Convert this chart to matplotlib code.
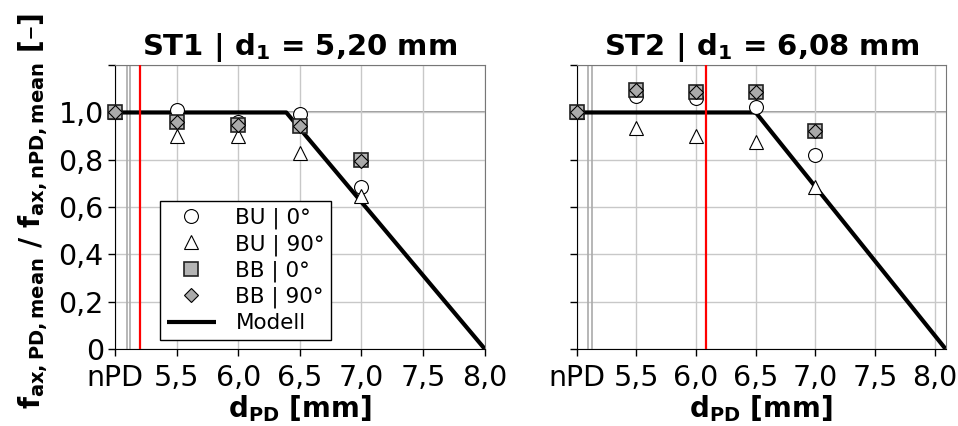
import numpy as np
import matplotlib.pyplot as plt

plt.rcParams['font.family'] = 'DejaVu Sans'
plt.rcParams['mathtext.default'] = 'bf'

# x positions: nPD is drawn at 5.0
x_pts = [5.0, 5.5, 6.0, 6.5, 7.0]
xtick_pos = [5.0, 5.5, 6.0, 6.5, 7.0, 7.5, 8.0]
xtick_lab = ['nPD', '5,5', '6,0', '6,5', '7,0', '7,5', '8,0']
ytick_pos = [0, 0.2, 0.4, 0.6, 0.8, 1.0, 1.2]
ytick_lab = ['0', '0,2', '0,4', '0,6', '0,8', '1,0', '']

# ST1
st1_bu0 = [1.0, 1.01, 0.96, 0.995, 0.685]
st1_bu90 = [1.0, 0.90, 0.90, 0.83, 0.645]
st1_bb0 = [1.0, 0.96, 0.948, 0.944, 0.80]
st1_bb90 = [1.0, 0.96, 0.948, 0.944, 0.795]
st1_model_x = [5.0, 6.39, 8.0]
st1_model_y = [1.0, 1.0, 0.0]
st1_d1 = 5.20

# ST2
st2_bu0 = [1.0, 1.07, 1.06, 1.025, 0.818]
st2_bu90 = [1.0, 0.936, 0.90, 0.877, 0.683]
st2_bb0 = [1.0, 1.095, 1.088, 1.088, 0.922]
st2_bb90 = [1.0, 1.093, 1.085, 1.088, 0.920]
st2_model_x = [5.0, 6.5, 8.09]
st2_model_y = [1.0, 1.0, 0.0]
st2_d1 = 6.08

fig = plt.figure(figsize=(9.58, 4.26), dpi=100)
ax1 = fig.add_axes([0.120, 0.181, 0.386, 0.666])
ax2 = fig.add_axes([0.602, 0.181, 0.385, 0.666])

panels = [
    (ax1, 'ST1 | d$_1$ = 5,20 mm', st1_bu0, st1_bu90, st1_bb0, st1_bb90, st1_model_x, st1_model_y, st1_d1, 8.0),
    (ax2, 'ST2 | d$_1$ = 6,08 mm', st2_bu0, st2_bu90, st2_bb0, st2_bb90, st2_model_x, st2_model_y, st2_d1, 8.09),
]

for ax, title, bu0, bu90, bb0, bb90, mx, my, d1, xmax in panels:
    ax.set_xlim(5.0, xmax)
    ax.set_ylim(0, 1.2)
    ax.set_xticks(xtick_pos)
    ax.set_xticklabels(xtick_lab)
    ax.set_yticks(ytick_pos)
    if ax is ax1:
        ax.set_yticklabels(ytick_lab)
    else:
        ax.set_yticklabels([])
    ax.tick_params(labelsize=20.5, length=5, width=1, direction='out', pad=3)
    ax.tick_params(axis='x', pad=6)
    ax.grid(True, color='#c8c8c8', linewidth=1)
    ax.axhline(1.0, color='#888888', linewidth=1.2, zorder=1)
    for s in ['top', 'right']:
        ax.spines[s].set_color('#777777')
    ax.spines['left'].set_color('black')
    ax.spines['bottom'].set_color('black')
    # axis break
    ax.axvline(5.095, color='#aaaaaa', linewidth=1.2, zorder=2)
    ax.axvline(5.125, color='#aaaaaa', linewidth=1.2, zorder=2)

    ax.plot(mx, my, color='black', linewidth=3, zorder=3, label='Modell', solid_capstyle='butt')
    ax.axvline(d1, color='red', linewidth=1.6, zorder=4)

    ax.plot(x_pts, bu0, linestyle='none', marker='o', markersize=10,
            markerfacecolor='white', markeredgecolor='black', markeredgewidth=0.8,
            label='BU | 0°', zorder=5, clip_on=False)
    ax.plot(x_pts, bu90, linestyle='none', marker='^', markersize=10,
            markerfacecolor='white', markeredgecolor='black', markeredgewidth=0.8,
            label='BU | 90°', zorder=5, clip_on=False)
    ax.plot(x_pts, bb0, linestyle='none', marker='s', markersize=9.5,
            markerfacecolor='#b4b4b4', markeredgecolor='#222222', markeredgewidth=1.2,
            label='BB | 0°', zorder=6, clip_on=False)
    ax.plot(x_pts, bb90, linestyle='none', marker='D', markersize=7.5,
            markerfacecolor='#aaaaaa', markeredgecolor='black', markeredgewidth=0.8,
            label='BB | 90°', zorder=7, clip_on=False)

    ax.set_title(title, fontsize=21, fontweight='bold', pad=7)
    ax.set_xlabel('d$_{PD}$ [mm]', fontsize=20, fontweight='bold', labelpad=1)

handles, labels = ax1.get_legend_handles_labels()
order = [1, 2, 3, 4, 0]
leg = ax1.legend([handles[i] for i in order], [labels[i] for i in order],
                 loc='lower left', bbox_to_anchor=(0.122, 0.032), fontsize=15.5,
                 fancybox=False, edgecolor='black', framealpha=1, borderaxespad=0,
                 handlelength=2.3, borderpad=0.3, labelspacing=0.23, handletextpad=0.9)
leg.get_frame().set_linewidth(1)
leg.set_zorder(10)

fig.text(0.034, 0.505, '$f_{ax,PD,mean}$ / $f_{ax,nPD,mean}$ [–]', rotation=90,
         fontsize=20, fontweight='bold', ha='center', va='center')

fig.savefig('out.png', dpi=100)
